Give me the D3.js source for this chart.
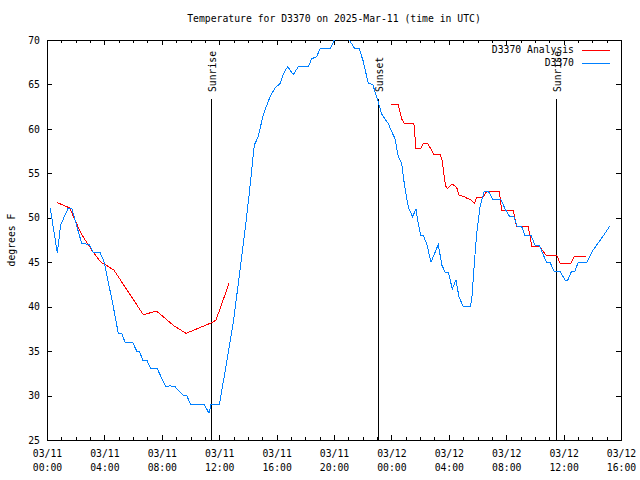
<!DOCTYPE html>
<html><head><meta charset="utf-8">
<script src="https://cdn.jsdelivr.net/npm/d3@7"></script>
<style>
body{margin:0;background:#fff;}
svg text{font-family:"DejaVu Sans Mono",monospace;font-size:9.75px;fill:#000;}
</style></head>
<body><svg id="c" width="640" height="480"></svg>
<script>
// hours since 2025-03-11 00:00 UTC
const obsHours = [0.23,0.72,0.95,1.48,1.72,2.42,2.95,3.23,3.69,3.99,4.62,4.97,5.21,5.44,5.97,6.25,6.43,6.67,6.95,7.23,7.69,8.27,8.57,8.92,9.50,9.74,10.01,10.96,11.29,11.43,12.01,12.52,12.98,13.45,13.80,14.10,14.31,14.45,14.72,15.07,15.54,15.89,16.24,16.47,16.77,17.16,17.51,18.21,18.45,18.79,19.02,19.72,20.02,20.49,21.07,21.41,21.76,22.04,22.39,22.70,23.09,23.32,23.55,23.78,24.02,24.25,24.48,24.72,24.83,25.00,25.18,25.48,25.71,25.87,26.04,26.22,26.46,26.76,27.27,27.51,27.74,27.97,28.24,28.50,28.71,29.01,29.48,29.60,29.78,29.94,30.17,30.47,30.75,31.05,31.62,31.92,32.26,32.54,32.77,33.08,33.31,33.73,34.01,34.31,34.59,34.82,35.05,35.33,35.75,36.10,36.29,36.56,36.79,37.02,37.61,38.07,38.65,39.23];
const obsTemps = [51.1,46.0,49.2,51.1,51.1,47.1,47.0,46.1,46.1,45.0,40.0,37.0,37.0,36.0,36.0,35.0,35.0,34.0,34.0,33.0,33.0,31.0,31.1,31.0,30.0,30.0,29.0,29.0,28.0,29.0,29.0,33.7,38.2,44.1,48.6,52.8,56.1,58.2,59.1,61.6,63.6,64.6,65.1,66.2,67.0,66.1,67.0,67.0,67.9,68.1,69.0,69.0,70.0,70.5,70.0,69.1,69.0,67.6,65.1,65.0,63.0,61.7,61.1,60.6,59.7,58.9,56.9,56.1,54.6,52.8,51.2,50.1,51.0,49.4,48.0,48.0,47.1,45.0,47.0,44.7,43.9,43.9,42.0,43.0,41.1,40.0,40.0,40.8,44.9,48.2,51.2,53.0,53.0,52.1,52.1,51.0,50.1,50.1,49.0,49.0,48.0,48.0,46.9,46.9,45.8,45.0,45.0,44.0,44.0,43.0,43.0,44.0,44.0,45.0,45.0,46.4,47.7,49.1];

const anaHours1 = [0.72,1.60,1.90,2.42,3.23,3.76,4.09,4.67,6.71,7.64,8.80,9.69,11.48,11.78,12.70];
const anaTemps1 = [51.7,51.1,49.9,48.1,46.1,45.0,44.7,44.1,39.1,39.5,37.9,37.0,38.2,38.5,42.7];
const anaHours2 = [23.97,24.48,24.72,24.90,25.57,25.71,26.04,26.22,26.53,26.69,26.97,27.39,27.51,27.67,27.78,27.89,28.24,28.55,28.73,29.08,29.25,29.55,29.78,29.94,30.38,30.66,31.52,31.69,32.50,32.73,33.54,33.78,34.31,34.77,35.52,35.75,36.52,36.73,37.54];
const anaTemps2 = [62.7,62.7,61.1,60.6,60.6,57.8,57.8,58.4,58.4,57.9,57.1,57.1,56.7,54.8,53.6,53.3,53.8,53.4,52.5,52.4,52.2,52.0,51.6,52.3,52.3,53.0,53.0,50.8,50.8,49.0,49.0,46.8,46.8,45.8,45.8,44.9,44.9,45.6,45.6];

const sunEvents = [{h:11.45,label:"Sunrise"},{h:23.09,label:"Sunset"},{h:35.5,label:"Sunrise"}];
const yTicks = [25,30,35,40,45,50,55,60,65,70];
const titleText = "Temperature for D3370 on 2025-Mar-11 (time in UTC)";
const yLabel = "degrees F";
const seriesNames = ["D3370 Analysis","D3370"];
const seriesColors = ["#ff0000","#0080ff"];

const base = Date.UTC(2025,2,11);
const toDate = h => new Date(base + h*3600000);

const L=47,R=621,T=40,B=440;
const svg = d3.select("#c");
const x = d3.scaleUtc().domain([toDate(0),toDate(40)]).range([L,R]);
const y = d3.scaleLinear().domain([25,70]).range([B,T]);

const majorT = d3.range(0,41,4).map(toDate);
const minorT = d3.range(0,41,1).map(toDate);

const g = svg.append("g").attr("shape-rendering","crispEdges");
function styleAxis(sel){ sel.select(".domain").remove(); sel.selectAll("line").attr("stroke","#000"); }

g.append("g").attr("transform",`translate(0,${B})`).call(d3.axisBottom(x).tickValues(minorT).tickSize(-3).tickFormat("")).call(styleAxis);
g.append("g").attr("transform",`translate(0,${T})`).call(d3.axisTop(x).tickValues(minorT).tickSize(-3).tickFormat("")).call(styleAxis);
g.append("g").attr("transform",`translate(0,${T})`).call(d3.axisTop(x).tickValues(majorT).tickSize(-5).tickFormat("")).call(styleAxis);
const xb = g.append("g").attr("transform",`translate(0,${B})`).call(d3.axisBottom(x).tickValues(majorT).tickSize(-5).tickPadding(0).tickFormat("")).call(styleAxis);
const fD = d3.utcFormat("%m/%d"), fT = d3.utcFormat("%H:%M");
xb.selectAll(".tick").each(function(d){
  const t = d3.select(this).append("text").attr("text-anchor","middle");
  t.append("tspan").attr("x",0).attr("y",16.5).text(fD(d));
  t.append("tspan").attr("x",0).attr("y",30.5).text(fT(d));
});
const yl = g.append("g").attr("transform",`translate(${L},0)`).call(d3.axisLeft(y).tickValues(yTicks).tickSize(-5).tickPadding(7)).call(styleAxis);
yl.selectAll("text").attr("font-family","DejaVu Sans Mono").attr("font-size","9.75px").attr("fill","#000");
g.append("g").attr("transform",`translate(${R},0)`).call(d3.axisRight(y).tickValues(yTicks).tickSize(-5).tickFormat("")).call(styleAxis);

g.append("rect").attr("x",L).attr("y",T).attr("width",R-L).attr("height",B-T).attr("fill","none").attr("stroke","#000");

// sun lines
sunEvents.forEach(s=>{
  const sx = Math.round(x(toDate(s.h)));
  g.append("line").attr("x1",sx).attr("x2",sx).attr("y1",99).attr("y2",B).attr("stroke","#000");
  svg.append("text").attr("transform",`translate(${sx+5},92) rotate(-90)`).attr("text-anchor","start").text(s.label);
});

svg.append("defs").append("clipPath").attr("id","clip").append("rect").attr("x",L).attr("y",T).attr("width",R-L).attr("height",B-T);
const line = d3.line().x(d=>x(toDate(d[0]))).y(d=>y(d[1]));
const dg = svg.append("g").attr("clip-path","url(#clip)").attr("shape-rendering","crispEdges");
dg.append("path").datum(anaHours1.map((h,i)=>[h,anaTemps1[i]])).attr("d",line).attr("fill","none").attr("stroke",seriesColors[0]);
dg.append("path").datum(anaHours2.map((h,i)=>[h,anaTemps2[i]])).attr("d",line).attr("fill","none").attr("stroke",seriesColors[0]);
dg.append("path").datum(obsHours.map((h,i)=>[h,obsTemps[i]])).attr("d",line).attr("fill","none").attr("stroke",seriesColors[1]);

// legend
seriesNames.forEach((n,i)=>{
  const ly = 50 + i*13;
  svg.append("text").attr("x",574).attr("y",ly).attr("dy","0.35em").attr("text-anchor","end").text(n);
  svg.append("line").attr("x1",582).attr("x2",610).attr("y1",ly).attr("y2",ly).attr("stroke",seriesColors[i]).attr("shape-rendering","crispEdges");
});

svg.append("text").attr("x",(L+R)/2).attr("y",19).attr("dy","0.35em").attr("text-anchor","middle").text(titleText);
svg.append("text").attr("transform",`translate(15,240) rotate(-90)`).attr("text-anchor","middle").text(yLabel);
</script></body></html>
